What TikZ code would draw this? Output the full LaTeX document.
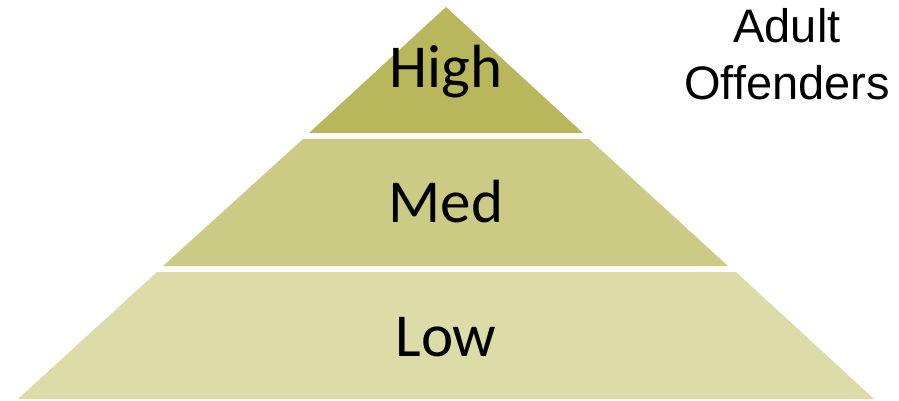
\documentclass[tikz,border=0pt]{standalone}
\usepackage{fontspec}
\setmainfont{Carlito}
\newfontfamily\labelfont{Liberation Sans}
\definecolor{tierhigh}{RGB}{185,183,92}
\definecolor{tiermed}{RGB}{203,203,133}
\definecolor{tierlow}{RGB}{220,220,168}
\tikzset{
	tier/.style={fill=#1, draw=none},
	tiertext/.style={anchor=base, inner sep=0pt, font=\fontsize{61}{61}\selectfont},
}
\begin{document}
\begin{tikzpicture}[x=1pt,y=-1pt]
			\useasboundingbox (0,0) rectangle (899,401);
			
			\fill[tier=tierhigh] (446,7) -- (583,133) -- (309,133) -- cycle;
			\node[tiertext] (high) at (446,88) {High};
			
			\fill[tier=tiermed] (303,139) -- (589,139) -- (728,266) -- (163,266) -- cycle;
			\node[tiertext] (med) at (446,222) {Med};
			
			\fill[tier=tierlow] (157,272) -- (736,272) -- (874,399) -- (18,399) -- cycle;
			\node[tiertext] (low) at (446,356) {Low};
			
			\node[align=center, inner sep=0pt, font=\labelfont\fontsize{47}{57}\selectfont] (group) at (787,54) {Adult\\Offenders};
		\end{tikzpicture}
\end{document}
